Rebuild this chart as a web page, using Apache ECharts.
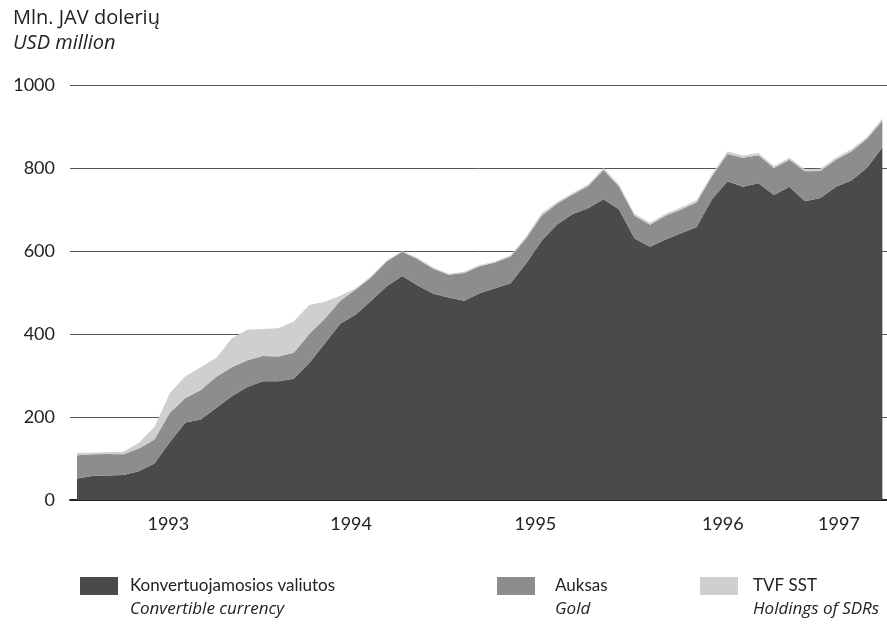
<!DOCTYPE html>
<html>
<head>
<meta charset="utf-8">
<script src="https://cdn.jsdelivr.net/npm/echarts@6/dist/echarts.min.js"></script>
<style>
html,body{margin:0;padding:0;background:#fff;}
#chart{width:887px;height:629px;}
</style>
</head>
<body>
<div id="chart"></div>
<script>
// Monthly observations, Jan 1993 .. May 1997 (index 0..52)
const currency = [52, 58, 59, 60, 69, 88, 140, 187, 194, 222, 250, 272, 286, 286, 292, 330, 377, 425, 447, 480, 515, 540, 517, 497, 488, 480, 498, 510, 522, 570, 625, 664, 689, 703, 725, 700, 630, 610, 628, 643, 658, 725, 768, 755, 763, 735, 755, 720, 728, 755, 770, 800, 850];
const gold = [56, 52, 52, 50, 55, 58, 70, 59, 71, 75, 70, 65, 61, 60, 63, 70, 60, 55, 60, 57, 60, 58, 63, 60, 55, 67, 65, 62, 65, 60, 60, 50, 47, 53, 70, 55, 55, 53, 57, 57, 59, 55, 66, 70, 68, 65, 65, 72, 65, 65, 70, 70, 64];
const sdr = [6, 4, 4, 6, 14, 30, 48, 52, 55, 46, 70, 73, 65, 68, 75, 70, 41, 12, 3, 3, 3, 2, 3, 3, 2, 3, 3, 3, 3, 5, 6, 4, 4, 4, 5, 5, 5, 5, 5, 5, 5, 5, 6, 5, 5, 5, 5, 5, 5, 5, 5, 5, 5];
const yearLabels = ['1993', '1994', '1995', '1996', '1997'];
const yearLabelAt = [5.9, 17.7, 29.6, 41.7, 49.2];
const seriesNames = ['Konvertuojamosios valiutos', 'Auksas', 'TVF SST'];
const seriesNamesEn = ['Convertible currency', 'Gold', 'Holdings of SDRs'];
const yTicks = [0, 200, 400, 600, 800, 1000];

const colors = ['#4a4a4a', '#8d8d8d', '#cfcfcf'];
const FONT = 'Lato, "Open Sans", sans-serif';
const FONT_IT = '"Open Sans", Lato, sans-serif';

// value first (stacked dimension), month index second
function pairs(arr) { return arr.map((v, i) => [v, i]); }
const allData = [currency, gold, sdr];

const chart = echarts.init(document.getElementById('chart'));
const swatch = 'path://M0,0H38V18H0Z M0,41H0.01L0,41Z';

const legendLeft = [80, 497, 700];
const legendPad = [7, 15, 10];
const legends = seriesNames.map((n, k) => ({
  data: [n],
  left: legendLeft[k],
  top: 577,
  orient: 'horizontal',
  icon: swatch,
  itemWidth: 38,
  itemHeight: 41,
  selectedMode: false,
  padding: 0,
  formatter: name => '{a|' + name + '}\n{b|' + seriesNamesEn[seriesNames.indexOf(name)] + '}',
  textStyle: {
    rich: {
      a: { fontFamily: FONT, fontSize: 17, color: '#222', lineHeight: 23, padding: [0, 0, 0, legendPad[k]] },
      b: { fontFamily: FONT_IT, fontSize: 17, color: '#222', fontStyle: 'italic', lineHeight: 23, padding: [0, 0, 0, legendPad[k]] }
    }
  }
}));

chart.setOption({
  animation: false,
  backgroundColor: '#ffffff',
  graphic: [
    { type: 'text', left: 13, top: 8, style: { text: 'Mln. JAV dolerių', font: '20px "Open Sans", sans-serif', fill: '#222' } },
    { type: 'text', left: 13, top: 33, style: { text: 'USD million', font: 'italic 20px "Open Sans", sans-serif', fill: '#222' } }
  ],
  legend: legends,
  grid: { left: 70, right: 0, top: 85, bottom: 129, containLabel: false },
  xAxis: {
    type: 'value',
    min: -0.45,
    max: 52.3,
    splitLine: { show: false },
    axisLine: { show: true, lineStyle: { color: '#222', width: 2 } },
    axisTick: { show: false },
    axisLabel: {
      customValues: yearLabelAt,
      formatter: v => { const k = yearLabelAt.indexOf(v); return k >= 0 ? yearLabels[k] : ''; },
      fontFamily: FONT, fontSize: 18, color: '#222', margin: 15
    }
  },
  yAxis: {
    type: 'value',
    min: yTicks[0],
    max: yTicks[yTicks.length - 1],
    interval: 200,
    axisLine: { show: false },
    axisTick: { show: false },
    splitLine: { show: true, lineStyle: { color: '#555', width: 1 } },
    axisLabel: { fontFamily: FONT, fontSize: 18, color: '#222', margin: 15, formatter: v => String(v) }
  },
  series: seriesNames.map((n, k) => ({
    name: n,
    type: 'line',
    stack: 'total',
    symbol: 'none',
    encode: { x: 1, y: 0 },
    data: pairs(allData[k]),
    lineStyle: { width: 0, color: colors[k] },
    itemStyle: { color: colors[k] },
    areaStyle: { color: colors[k], opacity: 1 },
    z: 2
  }))
});
</script>
</body>
</html>
